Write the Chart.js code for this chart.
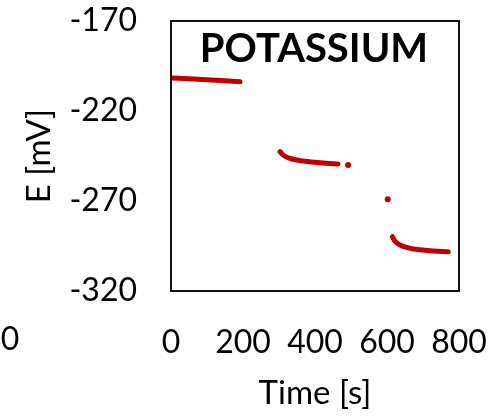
<!DOCTYPE html>
<html>
<head>
<meta charset="utf-8">
<script src="https://cdn.jsdelivr.net/npm/chart.js@4"></script>
<style>
  html, body { margin: 0; padding: 0; background: #fff; }
  #wrap { width: 490px; height: 416px; }
</style>
</head>
<body>
<div id="wrap"><canvas id="potchart" width="490" height="416"></canvas></div>
<script>
// readings (time in s, potential in mV)
const seg1 = [[0, -201.6], [50, -202.1], [100, -202.6], [150, -203.2], [192, -203.8]];
const seg2 = [[303, -242.6], [315, -245.0], [330, -246.3], [350, -247.2], [367, -247.8], [400, -248.5], [430, -249.0], [464, -249.4]];
const seg3 = [[615, -289.8], [622, -292.3], [636, -294.4], [655, -295.8], [673, -296.7], [720, -297.6], [770, -298.2]];
const loose = [[492, -250.0], [602, -269.0]];
const xTicks = [0, 200, 400, 600, 800];
const yTicks = [-170, -220, -270, -320];

const red = '#C00000';
const font = 'Lato, "Open Sans", sans-serif';

function toPts(arr) {
  return arr.map(p => ({ x: p[0], y: p[1] }));
}

// segments joined with gaps
const linePts = [].concat(toPts(seg1), [{ x: 250, y: null }], toPts(seg2), [{ x: 540, y: null }], toPts(seg3));

function noPad(s) {
  s.paddingTop = 0; s.paddingBottom = 0; s.paddingLeft = 0; s.paddingRight = 0;
}

const frame = {
  id: 'frame',
  afterDatasetsDraw(chart) {
    const a = chart.chartArea;
    const c = chart.ctx;
    c.save();
    c.strokeStyle = '#111';
    c.lineWidth = 2;
    c.strokeRect(a.left, a.top, a.right - a.left, a.bottom - a.top);
    c.fillStyle = '#000';
    c.font = 'bold 40px ' + font;
    c.textAlign = 'center';
    c.textBaseline = 'middle';
    c.fillText('POTASSIUM', (a.left + a.right) / 2 - 1, a.top + 28);
    // stray label at the far left
    c.font = '32px ' + font;
    c.fillText('0', 10, 340);
    c.restore();
  }
};

new Chart(document.getElementById('potchart'), {
  type: 'scatter',
  data: {
    datasets: [{
      data: linePts,
      showLine: true,
      spanGaps: false,
      borderColor: red,
      borderWidth: 5,
      borderCapStyle: 'round',
      borderJoinStyle: 'round',
      tension: 0.3,
      pointRadius: 0
    }, {
      data: toPts(loose),
      pointRadius: 3,
      pointBackgroundColor: red,
      pointBorderWidth: 0
    }]
  },
  options: {
    responsive: false,
    animation: false,
    layout: { padding: { top: 21, right: 31, left: 0, bottom: 0 } },
    plugins: { legend: { display: false }, tooltip: { enabled: false } },
    scales: {
      x: {
        type: 'linear',
        min: 0,
        max: 800,
        afterBuildTicks: s => { s.ticks = xTicks.map(v => ({ value: v })); },
        afterFit: s => { s.height = 125; noPad(s); },
        grid: { display: false, drawTicks: false },
        border: { display: false },
        ticks: { padding: 32, color: '#000', font: { family: font, size: 32 } },
        title: { display: true, text: 'Time [s]', color: '#000', font: { family: font, size: 33 }, padding: { top: 0, bottom: 3 } }
      },
      y: {
        type: 'linear',
        min: -320,
        max: -170,
        afterBuildTicks: s => { s.ticks = yTicks.map(v => ({ value: v })); },
        afterFit: s => { s.width = 171; noPad(s); },
        grid: { display: false, drawTicks: false },
        border: { display: false },
        ticks: { padding: 34, color: '#000', font: { family: font, size: 32 } },
        title: { display: true, text: 'E [mV]', color: '#000', font: { family: font, size: 33 }, padding: { top: 20, bottom: 0 } }
      }
    }
  },
  plugins: [frame]
});
</script>
</body>
</html>
